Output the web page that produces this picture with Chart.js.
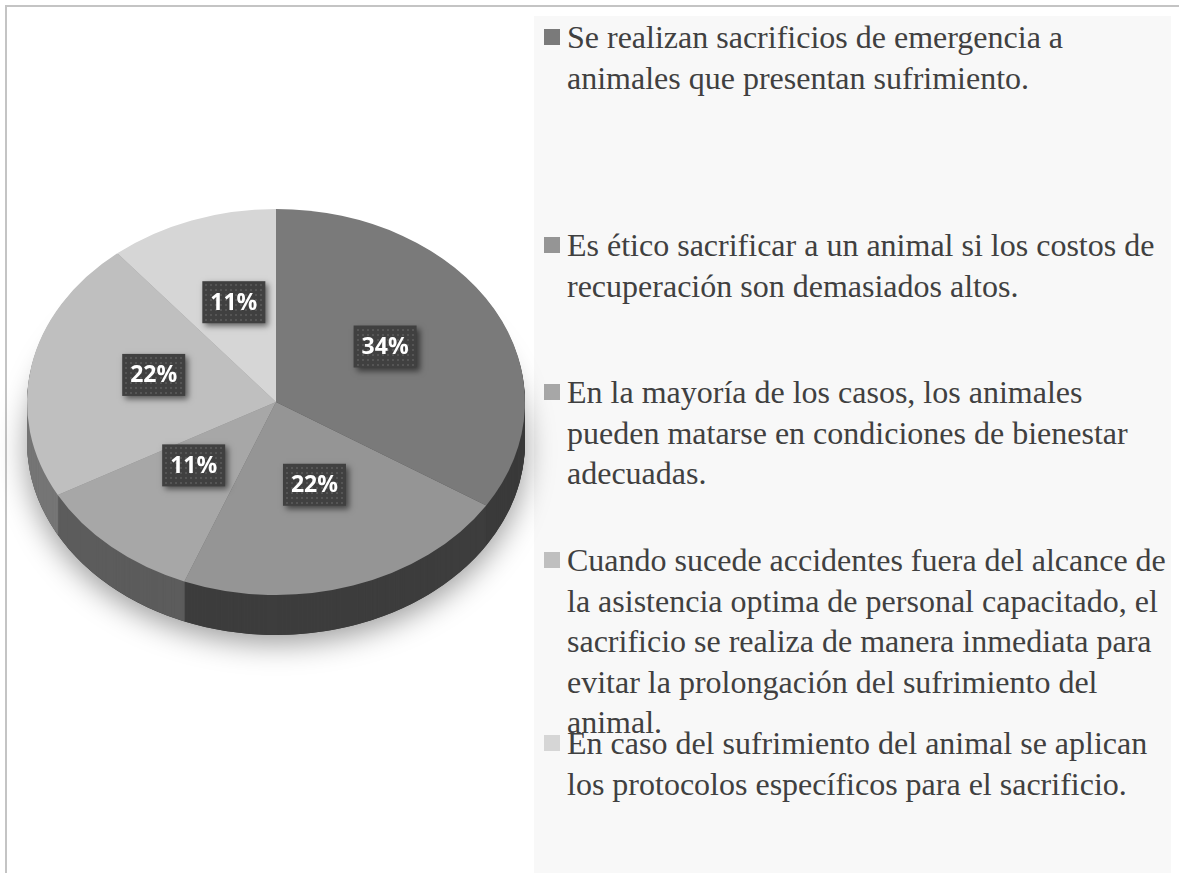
<!DOCTYPE html>
<html>
<head>
<meta charset="utf-8">
<script src="https://cdn.jsdelivr.net/npm/chart.js@4.4.1/dist/chart.umd.min.js"></script>
<style>
	html, body { margin: 0; padding: 0; background: #fff; }
	#wrap { position: relative; width: 1179px; height: 873px; overflow: hidden; }
	#frame { position: absolute; left: 5px; top: 5px; width: 1174px; height: 868px; border-top: 2px solid #c4c4c4; border-left: 2px solid #c4c4c4; box-sizing: border-box; }
	#panel { position: absolute; left: 534px; top: 16px; width: 637px; height: 857px; background: #f8f8f8; }
	#pie { position: absolute; left: 0; top: 0; pointer-events: none; }
	.item { position: absolute; left: 0; }
	.sw { position: absolute; left: 10px; top: 12px; width: 16px; height: 16px; }
	.txt { position: absolute; left: 33px; top: 0; white-space: nowrap; font-family: "Liberation Serif", "Times New Roman", serif; font-size: 32px; line-height: 40.5px; color: #404040; }
</style>
</head>
<body>
<div id="wrap">
	<div id="frame"></div>
	<div id="panel"></div>
	<canvas id="pie" width="1179" height="873"></canvas>
</div>
<script>

	/* Data */
	var labels = [
		['Se realizan sacrificios de emergencia a', 'animales que presentan sufrimiento.'],
		['Es ético sacrificar a un animal si los costos de', 'recuperación son demasiados altos.'],
		['En la mayoría de los casos, los animales', 'pueden matarse en condiciones de bienestar', 'adecuadas.'],
		['Cuando sucede accidentes fuera del alcance de', 'la asistencia optima de personal capacitado, el', 'sacrificio se realiza de manera inmediata para', 'evitar la prolongación del sufrimiento del', 'animal.'],
		['En caso del sufrimiento del animal se aplican', 'los protocolos específicos para el sacrificio.']
	];
	var values = [34, 22, 11, 22, 11];
	var topColors = ['#7a7a7a', '#959595', '#a7a7a7', '#bfbfbf', '#d6d6d6'];
	var sideColors = ['#3a3a3a', '#3d3d3d', '#5c5c5c', '#767676', '#8a8a8a'];

	/* Layout */
	var legendTops = [1, 209, 356, 524, 707];
	var TILT = 0.775;
	var DEPTH = 40;


	/* Legend (html) */
	var panel = document.getElementById('panel');
	labels.forEach(function(lines, i) {
		var item = document.createElement('div');
		item.className = 'item';
		item.style.top = legendTops[i] + 'px';
		var sw = document.createElement('div');
		sw.className = 'sw';
		sw.style.background = topColors[i];
		var txt = document.createElement('div');
		txt.className = 'txt';
		txt.innerHTML = lines.join('<br>');
		item.appendChild(sw);
		item.appendChild(txt);
		panel.appendChild(item);
	});


	/* 3d pie: squash the library's arcs and stack a side under them */
	function sector(ctx, a, color) {
		ctx.beginPath();
		ctx.moveTo(a.x, a.y);
		ctx.arc(a.x, a.y, a.outerRadius, a.startAngle, a.endAngle);
		ctx.closePath();
		ctx.fillStyle = color;
		ctx.fill();
	}

	var pie3d = {
		id: 'pie3d',
		beforeDatasetsDraw: function(chart) {
			var ctx = chart.ctx;
			var arcs = chart.getDatasetMeta(0).data;
			var cx = arcs[0].x, cy = arcs[0].y, r = arcs[0].outerRadius;

			// soft shadow under the disc
			ctx.save();
			ctx.translate(0, cy * (1 - TILT) + DEPTH);
			ctx.scale(1, TILT);
			ctx.shadowColor = 'rgba(0,0,0,0.4)';
			ctx.shadowBlur = 30;
			ctx.shadowOffsetY = 8;
			ctx.beginPath();
			ctx.arc(cx, cy, r, 0, Math.PI * 2);
			ctx.fillStyle = '#3a3a3a';
			ctx.fill();
			ctx.restore();

			for (var d = DEPTH; d >= 1; d--) {
				ctx.save();
				ctx.translate(0, cy * (1 - TILT) + d);
				ctx.scale(1, TILT);
				arcs.forEach(function(a, i) { sector(ctx, a, sideColors[i]); });
				ctx.restore();
			}

			ctx.save();
			ctx.translate(0, cy * (1 - TILT));
			ctx.scale(1, TILT);
			arcs.forEach(function(a) { a.draw(ctx); });
			ctx.restore();
			return false;
		},
		afterDraw: function(chart) {
			var ctx = chart.ctx;
			var arcs = chart.getDatasetMeta(0).data;
			var total = values.reduce(function(s, v) { return s + v; }, 0);
			ctx.save();
			arcs.forEach(function(a, i) {
				var p = a.tooltipPosition();
				var x = p.x, y = a.y + (p.y - a.y) * TILT - 9;
				var w = 63, h = 42;
				ctx.save();
				ctx.shadowColor = 'rgba(0,0,0,0.55)';
				ctx.shadowBlur = 6;
				ctx.shadowOffsetX = 3;
				ctx.shadowOffsetY = 3;
				ctx.fillStyle = '#404040';
				ctx.fillRect(x - w / 2, y - h / 2, w, h);
				ctx.restore();
				ctx.fillStyle = '#555555';
				for (var dx = 3; dx < w - 1; dx += 5) {
					for (var dy = 3; dy < h - 1; dy += 5) {
						ctx.fillRect(Math.round(x - w / 2 + dx), Math.round(y - h / 2 + dy), 2, 2);
					}
				}
				ctx.fillStyle = '#ffffff';
				ctx.font = 'bold 23px "Open Sans"';
				ctx.textAlign = 'center';
				ctx.textBaseline = 'middle';
				ctx.fillText(Math.round(values[i] / total * 100) + '%', x, y + 1);
			});
			ctx.restore();
		}
	};

	var pieChart = new Chart(document.getElementById('pie'), {
		type: 'pie',
		data: {
			labels: labels.map(function(l) { return l.join(' '); }),
			datasets: [{
				data: values,
				backgroundColor: topColors,
				borderWidth: 0
			}]
		},
		options: {
			responsive: false,
			animation: false,
			events: [],
			layout: {
				padding: { left: 27, right: 654, top: 153, bottom: 222 }
			},
			plugins: {
				legend: { display: false },
				tooltip: { enabled: false }
			}
		},
		plugins: [pie3d]
	});

</script>
</body>
</html>
